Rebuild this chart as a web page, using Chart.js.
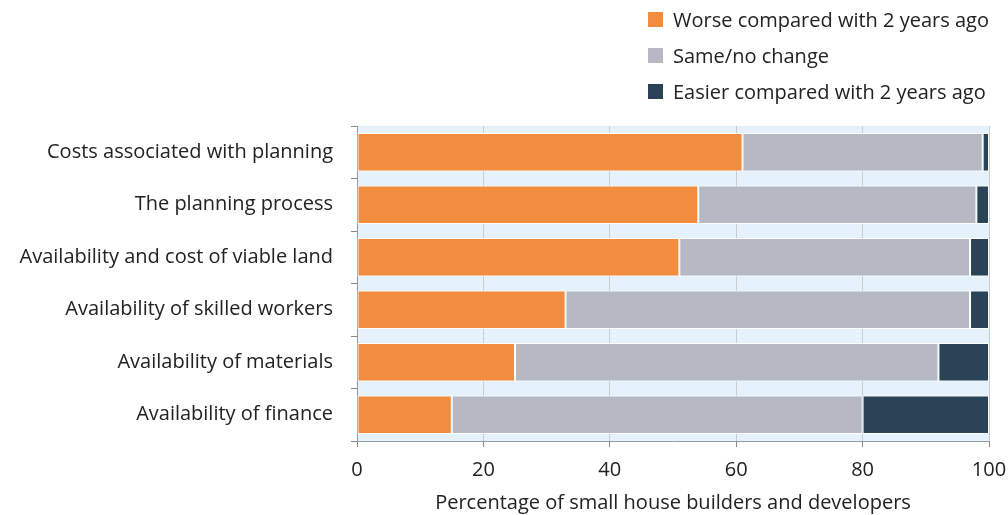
<!DOCTYPE html>
<html><head><meta charset="utf-8">
<script src="https://cdn.jsdelivr.net/npm/chart.js@4/dist/chart.umd.min.js"></script>
<style>
html,body{margin:0;padding:0;background:#fff;}
#wrap{position:relative;width:1008px;height:515px;}
#legend{position:absolute;left:648px;top:1px;font-family:"Open Sans","Noto Sans",sans-serif;font-size:20px;color:#222;}
#legend .it{display:flex;align-items:center;height:36px;}
#legend .sw{width:15px;height:15px;margin-right:10px;}
</style></head>
<body><div id="wrap"><canvas id="c" width="1008" height="515"></canvas><div id="legend"></div></div>
<script>
const categories = ["Costs associated with planning","The planning process","Availability and cost of viable land","Availability of skilled workers","Availability of materials","Availability of finance"];
const seriesNames = ["Worse compared with 2 years ago","Same/no change","Easier compared with 2 years ago"];
const worse = [61,54,51,33,25,15];
const same = [38,44,46,64,67,65];
const easier = [1,2,3,3,8,20];
const xTicks = [0,20,40,60,80,100];
const colors = ["#f28c3f","#b6b9c3","#2c4257"];

const bgPlugin = {id:'bg',beforeDraw(chart){const a=chart.chartArea,ctx=chart.ctx;ctx.save();ctx.fillStyle='#e6f2fb';ctx.fillRect(a.left,a.top,a.right-a.left,a.bottom-a.top);ctx.restore();}};
const font = {family:'"Open Sans", "Noto Sans", sans-serif', size:20};
const chart = new Chart(document.getElementById('c'),{
  type:'bar',
  data:{labels:categories,datasets:[worse,same,easier].map((d,i)=>({label:seriesNames[i],data:d,backgroundColor:colors[i],borderColor:'#ffffff',borderWidth:1,borderSkipped:false,barPercentage:0.73,categoryPercentage:1}))},
  options:{
    indexAxis:'y',responsive:false,animation:false,
    layout:{padding:{top:126,left:6,right:19,bottom:0}},
    plugins:{legend:{display:false},tooltip:{enabled:false}},
    scales:{
      x:{stacked:true,min:0,max:100,afterBuildTicks(s){s.ticks=xTicks.map(v=>({value:v}));},
        afterFit(s){s.paddingRight=0;s.paddingLeft=0;},
        ticks:{font:font,color:'#222',padding:11},
        grid:{color:'#c9cdd2',tickLength:6,tickColor:'#888'},
        border:{color:'#999'},
        title:{display:true,text:'Percentage of small house builders and developers',font:font,color:'#222',padding:{top:-2,bottom:0}}},
      y:{stacked:true,ticks:{font:font,color:'#222',padding:18},
        grid:{drawOnChartArea:false,tickLength:6,color:'#888',offset:true},
        border:{color:'#999'},
        afterFit(s){s.width=351;}}
    }
  },
  plugins:[bgPlugin]
});
const lg=document.getElementById('legend');
chart.data.datasets.forEach(ds=>{const d=document.createElement('div');d.className='it';d.innerHTML='<span class="sw" style="background:'+ds.backgroundColor+'"></span><span>'+ds.label+'</span>';lg.appendChild(d);});
</script></body></html>
